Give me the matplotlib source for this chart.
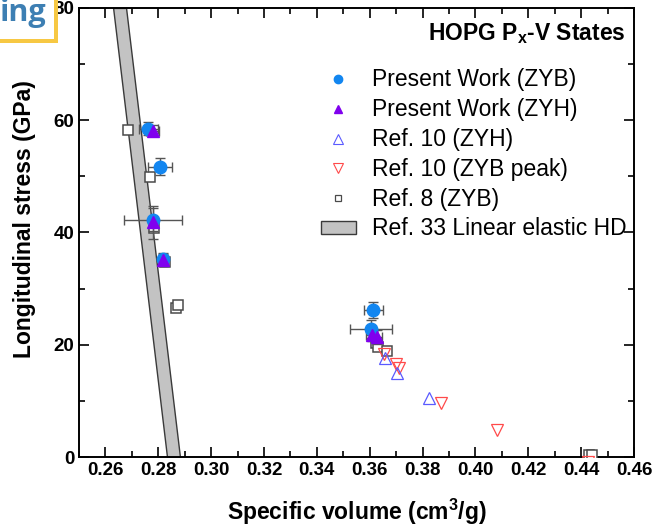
import numpy as np
import matplotlib
matplotlib.use("Agg")
import matplotlib.pyplot as plt
from matplotlib.patches import Patch, Rectangle
from matplotlib.lines import Line2D

plt.rcParams['font.family'] = ['Liberation Sans', 'DejaVu Sans']
plt.rcParams['mathtext.fontset'] = 'custom'
plt.rcParams['mathtext.rm'] = 'Liberation Sans'
plt.rcParams['mathtext.bf'] = 'Liberation Sans:bold'
plt.rcParams['mathtext.default'] = 'regular'

# Present Work (ZYB): volume, stress, x-error, y-error
zyb_v = [0.2762, 0.2806, 0.2779, 0.2817, 0.3613, 0.3604]
zyb_p = [58.5, 51.7, 42.3, 35.3, 26.2, 22.8]
zyb_dv = [0.0035, 0.0045, 0.0110, 0.0010, 0.0036, 0.0080]
zyb_dp = [1.2, 1.5, 2.0, 1.0, 1.4, 1.6]

# Present Work (ZYH)
zyh_v = [0.2779, 0.2781, 0.2817, 0.3607, 0.3626]
zyh_p = [58.1, 41.8, 35.1, 21.8, 21.4]
zyh_dv = [0.0025, 0.0015, 0.0010, 0.0020, 0.0020]
zyh_dp = [1.0, 3.0, 1.0, 1.2, 1.2]

# Ref. 10 (ZYH)
r10h_v = [0.3658, 0.3702, 0.3823]
r10h_p = [17.6, 14.9, 10.6]

# Ref. 10 (ZYB peak)
r10b_v = [0.3655, 0.3698, 0.3712, 0.3868, 0.4080, 0.4424]
r10b_p = [18.3, 16.5, 15.8, 9.7, 4.9, -0.8]

# Ref. 8 (ZYB)
r8_v = [0.2687, 0.2769, 0.2785, 0.2825, 0.2868, 0.2876,
        0.3624, 0.3633, 0.3664, 0.4430, 0.4442]
r8_p = [58.3, 49.9, 40.8, 34.7, 26.6, 27.0,
        20.3, 19.6, 18.9, 0.3, 0.3]

# Ref. 33 linear elastic HD band
band_p = [0, 80]
band_lo = [0.2833, 0.2629]
band_hi = [0.2882, 0.2678]

fig = plt.figure(figsize=(6.53, 5.29), dpi=100)
ax = fig.add_axes([0.121, 0.136, 0.850, 0.849])

ax.fill_betweenx(band_p, band_lo, band_hi, facecolor='#c3c3c3',
                 edgecolor='#3a3a3a', linewidth=1.0, zorder=1)

ax.plot(r8_v, r8_p, 's', ms=6.5, mfc='white', mec='#4a4a4a', mew=1.1, zorder=3)
ax.plot(r10b_v, r10b_p, 'v', ms=9, mfc='none', mec='#ff4a4a', mew=0.9, zorder=3)
ax.plot(r10h_v, r10h_p, '^', ms=9, mfc='none', mec='#5a5aff', mew=0.9, zorder=3)

ax.errorbar(zyb_v, zyb_p, xerr=zyb_dv, yerr=zyb_dp, fmt='none',
            ecolor='#555555', elinewidth=1.0, capsize=3.5, zorder=4)
ax.errorbar(zyh_v, zyh_p, xerr=zyh_dv, yerr=zyh_dp, fmt='none',
            ecolor='#555555', elinewidth=1.0, capsize=3.5, zorder=4)
ax.plot(zyb_v, zyb_p, 'o', ms=9, color='#1286f0', mec='#1286f0', zorder=5)
ax.plot(zyh_v, zyh_p, '^', ms=9, color='#8000ee', mec='#8000ee', zorder=6)

ax.set_xlim(0.25, 0.46)
ax.set_ylim(0, 80)
ax.set_xticks(np.arange(0.26, 0.461, 0.02))
ax.set_xticks(np.arange(0.25, 0.461, 0.01), minor=True)
ax.set_yticks([0, 20, 40, 60, 80])
ax.set_yticks([10, 30, 50, 70], minor=True)
ax.xaxis.set_major_formatter(matplotlib.ticker.FormatStrFormatter('%.2f'))
ax.tick_params(which='both', direction='in', top=True, right=True, width=1.2,
               labelsize=13.5)
ax.tick_params(which='major', length=7)
ax.tick_params(which='minor', length=4)
for lab in ax.get_xticklabels() + ax.get_yticklabels():
    lab.set_fontweight('bold')
for s in ax.spines.values():
    s.set_linewidth(1.4)

ax.set_xlabel('Specific volume (cm$^{3}$/g)', fontsize=16.5, fontweight='bold',
              labelpad=13)
ax.set_ylabel('Longitudinal stress (GPa)', fontsize=16.5, fontweight='bold')
ax.yaxis.set_label_coords(-0.078, 0.53)

ax.text(0.984, 0.943, 'HOPG P$_{x}$-V States', transform=ax.transAxes,
        ha='right', va='center', fontsize=16.5, fontweight='bold')

handles = [
    Line2D([], [], ls='none', marker='o', ms=6, color='#1286f0'),
    Line2D([], [], ls='none', marker='^', ms=6, color='#8000ee'),
    Line2D([], [], ls='none', marker='^', ms=6.5, mfc='none', mec='#5a5aff', mew=0.8),
    Line2D([], [], ls='none', marker='v', ms=6.5, mfc='none', mec='#ff4a4a', mew=0.8),
    Line2D([], [], ls='none', marker='s', ms=5, mfc='white', mec='#4a4a4a', mew=0.9),
    Patch(facecolor='#c3c3c3', edgecolor='#3a3a3a'),
]
labels = ['Present Work (ZYB)', 'Present Work (ZYH)', 'Ref. 10 (ZYH)',
          'Ref. 10 (ZYB peak)', 'Ref. 8 (ZYB)', 'Ref. 33 Linear elastic HD']
ax.legend(handles, labels, loc='upper right', bbox_to_anchor=(0.986, 0.866),
          frameon=False, fontsize=16.5, handlelength=1.5, handleheight=0.5,
          handletextpad=0.7, labelspacing=0.3, borderaxespad=0,
          borderpad=0)

# site logo fragment in the top-left corner
fig.patches.append(Rectangle((0, 0.918), 0.088, 0.082, transform=fig.transFigure,
                             facecolor='white', edgecolor='none', zorder=10))
fig.patches.append(Rectangle((0.083, 0.918), 0.006, 0.082, transform=fig.transFigure,
                             facecolor='#f7c843', edgecolor='none', zorder=11))
fig.patches.append(Rectangle((0, 0.918), 0.089, 0.008, transform=fig.transFigure,
                             facecolor='#f7c843', edgecolor='none', zorder=11))
fig.text(0.0, 0.975, 'ing', fontsize=22, color='#3d7fb3', fontweight='bold',
         family='Open Sans', ha='left', va='center', zorder=12)

fig.savefig('out.png', dpi=100)
